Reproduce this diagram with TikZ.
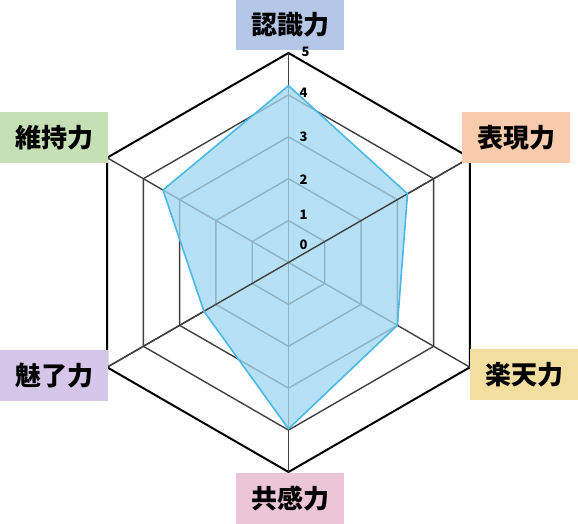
\documentclass[tikz,border=0pt]{standalone}
\usepackage{fontspec}
\newfontfamily\cjk{Noto Sans CJK JP}
\usetikzlibrary{calc}
\definecolor{gridc}{HTML}{404040}
\definecolor{gridin}{HTML}{8FB3C4}
\definecolor{areafill}{HTML}{B5E0F5}
\definecolor{arealine}{HTML}{4CB8E8}
\definecolor{cblue}{HTML}{B4C7E7}
\definecolor{cgreen}{HTML}{C5E0B4}
\definecolor{cpeach}{HTML}{F8CBAD}
\definecolor{cpurple}{HTML}{D6C6EA}
\definecolor{cyellow}{HTML}{F2DFA0}
\definecolor{cpink}{HTML}{ECC5D6}
\tikzset{
  axislabel/.style={inner sep=0pt, minimum width=108pt, minimum height=51pt,
    font=\cjk\bfseries\fontsize{26}{26}\selectfont, text=black},
  ticklabel/.style={inner sep=0pt, font=\cjk\bfseries\fontsize{13}{13}\selectfont, text=black},
  ring/.style={gridc, line width=1.4pt},
  outerring/.style={black, line width=2pt},
  spoke/.style={gridc, line width=1.4pt},
  inner/.style={gridin, line width=1.4pt},
}
\begin{document}
\begin{tikzpicture}[x=1pt,y=1pt]
\useasboundingbox (0,0) rectangle (578,524);
\coordinate (C) at (288.5,261.5);
\def\R{209.5}
% vertices of rings
\foreach \k in {1,...,5}{
  \foreach \a/\n in {90/a,30/b,-30/c,-90/d,210/e,150/f}{
    \coordinate (\n\k) at ($(C)+(\a:{\R*\k/5})$);
  }
}
% grid rings
\foreach \k in {1,...,4}{
  \draw[ring] (a\k) -- (b\k) -- (c\k) -- (d\k) -- (e\k) -- (f\k) -- cycle;
}
\draw[outerring, line join=miter] (a5) -- (b5) -- (c5) -- (d5) -- (e5) -- (f5) -- cycle;
% spokes
\foreach \n in {a,b,c,d,e,f}{ \draw[spoke] (C) -- (\n5); }
% data points
\coordinate (p1) at ($(C)+(90:{\R*4.22/5})$);
\coordinate (p2) at ($(C)+(30:{\R*3.28/5})$);
\coordinate (p3) at ($(C)+(-30:{\R*3.0/5})$);
\coordinate (p4) at ($(C)+(-90:{\R*3.97/5})$);
\coordinate (p5) at ($(C)+(210:{\R*2.33/5})$);
\coordinate (p6) at ($(C)+(150:{\R*3.46/5})$);
\fill[areafill] (p1) -- (p2) -- (p3) -- (p4) -- (p5) -- (p6) -- cycle;
\begin{scope}
  \clip (p1) -- (p2) -- (p3) -- (p4) -- (p5) -- (p6) -- cycle;
  \foreach \k in {1,...,4}{
    \draw[inner] (a\k) -- (b\k) -- (c\k) -- (d\k) -- (e\k) -- (f\k) -- cycle;
  }
  \foreach \n in {a,c,d,f}{ \draw[inner] (C) -- (\n5); }
\end{scope}
\draw[spoke] (e5) -- (b5);
\draw[arealine, line width=1.6pt, line join=round] (p1) -- (p2) -- (p3) -- (p4) -- (p5) -- (p6) -- cycle;
% axis labels
\node[axislabel, fill=cblue] (l1) at (290,499) {認識力};
\node[axislabel, fill=cpeach] (l2) at (516,386.5) {表現力};
\node[axislabel, fill=cyellow] (l3) at (524,149) {楽天力};
\node[axislabel, fill=cpink] (l4) at (290,25.5) {共感力};
\node[axislabel, fill=cpurple] (l5) at (54,148.5) {魅了力};
\node[axislabel, fill=cgreen] (l6) at (54,386.5) {維持力};
% tick labels
\node[ticklabel] (t5) at (305.5,472) {5};
\node[ticklabel] (t4) at (303.5,431) {4};
\node[ticklabel] (t3) at (303.5,387) {3};
\node[ticklabel] (t2) at (303.5,344) {2};
\node[ticklabel] (t1) at (303.5,309) {1};
\node[ticklabel] (t0) at (303.5,279) {0};
\end{tikzpicture}
\end{document}
